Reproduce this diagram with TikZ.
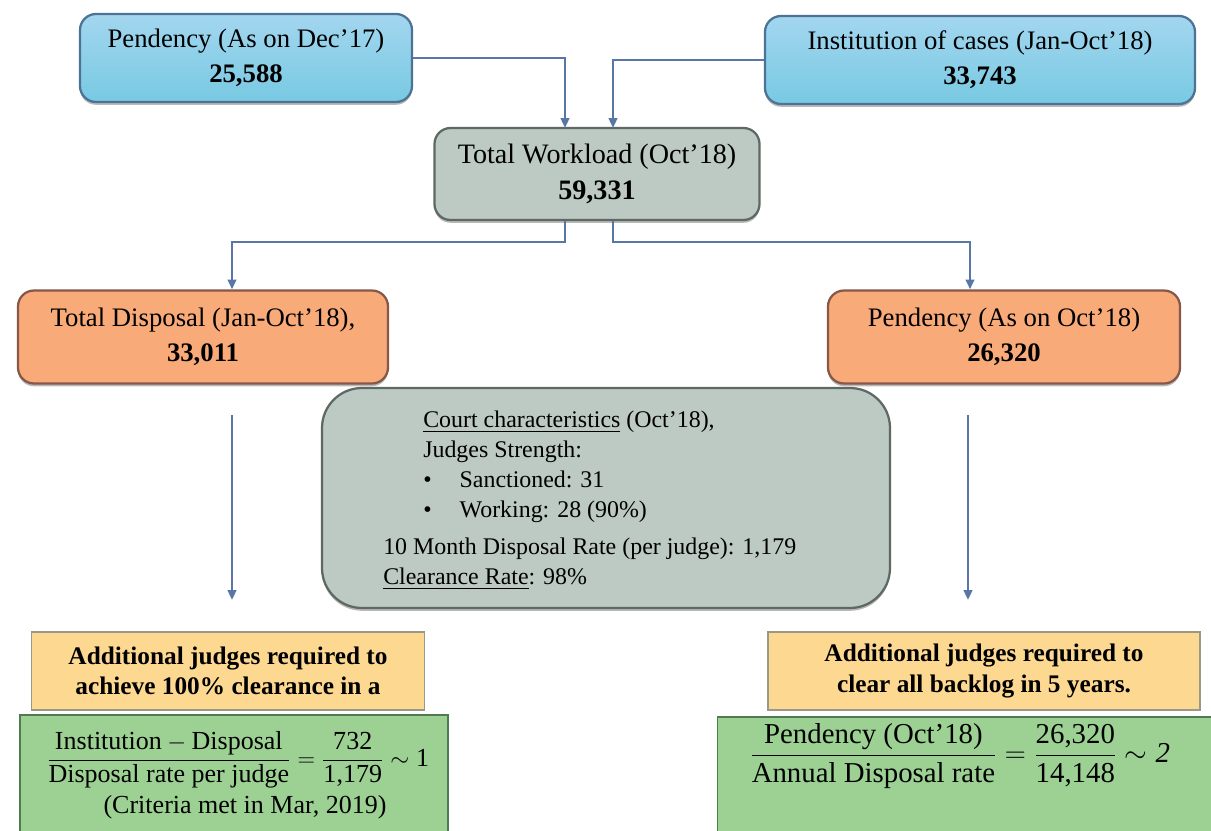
\documentclass[tikz,border=0pt]{standalone}
\usepackage{amsmath}
\usepackage{fontspec}
\setmainfont{Liberation Serif}
\usetikzlibrary{arrows.meta,shadows}

\definecolor{blueTop}{HTML}{A3D6EF}
\definecolor{blueBot}{HTML}{78C9E2}
\definecolor{blueLine}{HTML}{4C7396}
\definecolor{greyFill}{HTML}{BCCAC3}
\definecolor{greyLine}{HTML}{5E6864}
\definecolor{orangeFill}{HTML}{F8AA79}
\definecolor{orangeLine}{HTML}{87584A}
\definecolor{yellowFill}{HTML}{FDD891}
\definecolor{yellowLine}{HTML}{9C9886}
\definecolor{greenFill}{HTML}{9DD194}
\definecolor{greenLine}{HTML}{4E7B50}
\definecolor{linkCol}{HTML}{5877A6}

\newcommand{\pxl}{0.025cm}

\begin{document}
\begin{tikzpicture}[x=\pxl, y=-\pxl,
    sz/.style 2 args={minimum width=#1*\pxl, minimum height=#2*\pxl, inner sep=0pt},
    bigtxt/.style={font=\fontsize{19}{25}\selectfont, align=center},
    shade/.style={drop shadow={shadow xshift=0pt, shadow yshift=-2pt, opacity=0.55}},
    bluebox/.style={draw=blueLine, line width=1.6pt, rounded corners=0.4cm,
        top color=blueTop, bottom color=blueBot, shade, bigtxt},
    greybox/.style={draw=greyLine, line width=1.6pt, fill=greyFill, shade, bigtxt},
    orangebox/.style={draw=orangeLine, line width=1.6pt, rounded corners=0.4cm,
        fill=orangeFill, shade, bigtxt},
    yellowbox/.style={draw=yellowLine, line width=1.2pt, fill=yellowFill,
        font=\fontsize{18}{21.5}\selectfont\bfseries, align=center},
    greenbox/.style={draw=greenLine, line width=1.2pt, fill=greenFill},
    link/.style={draw=linkCol, line width=1.8pt, -{Triangle[length=7pt,width=6pt]}}]

\clip (0,0) rectangle (1211,830);
\fill[white] (0,0) rectangle (1211,830);

% inputs
\node[bluebox, sz={332}{88}] (pend17) at (246,58) {Pendency (As on Dec'17)\\ \textbf{25,588}};
\node[bluebox, sz={430}{88}] (inst) at (980,60) {Institution of cases (Jan-Oct'18)\\ \textbf{33,743}};

% workload
\node[greybox, rounded corners=0.4cm, sz={325}{92}, font=\fontsize{20}{26}\selectfont] (work) at (597,174)
    {Total Workload (Oct'18)\\ \textbf{59,331}};

% outcomes
\node[orangebox, sz={370}{93}] (disp) at (203,337) {Total Disposal (Jan-Oct'18),\\ \textbf{33,011}};
\node[orangebox, sz={352}{93}] (pend18) at (1004,337) {Pendency (As on Oct'18)\\ \textbf{26,320}};

% court characteristics
\node[greybox, rounded corners=1cm, sz={568}{220}] (court) at (606,498) {};
\node[anchor=north west, inner sep=0pt, align=left,
    font=\fontsize{17}{21.3}\selectfont] (courttxt) at (383,411)
    {\hspace*{1cm}\underline{Court characteristics} (Oct'18),\\
     \hspace*{1cm}Judges Strength:\\
     \hspace*{1cm}\textbullet\hspace*{0.7cm}Sanctioned: 31\\
     \hspace*{1cm}\textbullet\hspace*{0.7cm}Working: 28 (90\%)\\[5pt]
     10 Month Disposal Rate (per judge): 1,179\\
     \underline{Clearance Rate}: 98\%};

% additional judges
\node[yellowbox, sz={393}{78}] (addlL) at (228,671) {Additional judges required to\\ achieve 100\% clearance in a};
\node[yellowbox, sz={432}{78}] (addlR) at (984,671) {Additional judges required to\\ clear all backlog in 5 years.};

\node[greenbox, sz={428}{130}] (calcL) at (234,780) {};
\node[greenbox, sz={497}{126}] (calcR) at (966,780) {};

\node[font=\fontsize{18.5}{22}\selectfont, inner sep=0pt] (fracL) at (238,760)
    {$\dfrac{\text{Institution}-\text{Disposal}}{\text{Disposal rate per judge}}
      = \dfrac{\text{732}}{\text{1,179}} \sim \text{1}$};
\node[font=\fontsize{18.5}{22}\selectfont, inner sep=0pt] (critL) at (245,807) {(Criteria met in Mar, 2019)};
\node[font=\fontsize{20.5}{24}\selectfont, inner sep=0pt] (fracR) at (960,756)
    {$\dfrac{\text{Pendency (Oct'18)}}{\text{Annual Disposal rate}}
      = \dfrac{\text{26,320}}{\text{14,148}} \sim \textit{2}$};

% flows into the workload
\coordinate (inL) at (565,128);
\coordinate (inR) at (613,128);
\draw[link] (pend17.east) -| (inL);
\draw[link] (inst.west) -| (inR);

% split of the workload
\coordinate (brL) at (232,242);
\coordinate (brR) at (970,242);
\draw[link] (work.south -| inL) |- (brL) -- (brL |- disp.north);
\draw[link] (work.south -| inR) |- (brR) -- (brR |- pend18.north);

\coordinate (dnL1) at (232,415);
\coordinate (dnL2) at (232,600);
\coordinate (dnR1) at (968,415);
\coordinate (dnR2) at (968,600);
\draw[link] (dnL1) -- (dnL2);
\draw[link] (dnR1) -- (dnR2);
\end{tikzpicture}
\end{document}
